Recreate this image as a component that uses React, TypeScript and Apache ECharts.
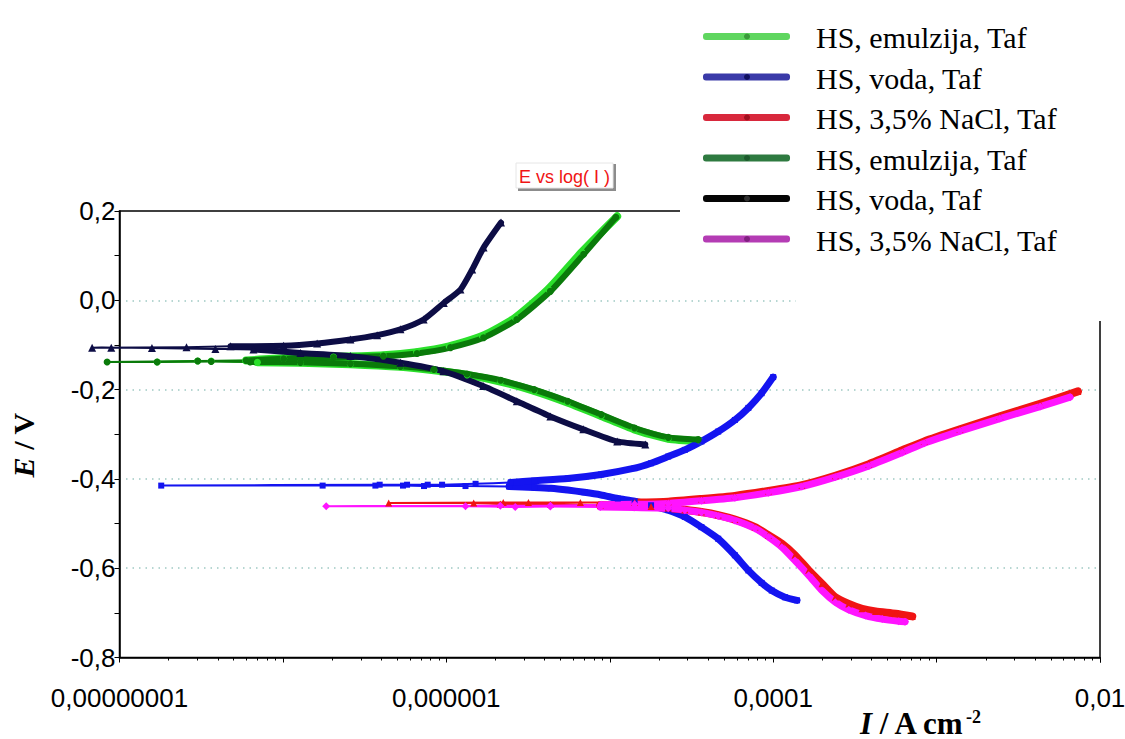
import React, { useEffect, useRef } from 'react';
import * as echarts from 'echarts';

// Data: [I (A cm^-2), E (V)]
// Series 1: HS, emulzija, Taf (light green)
const emulzijaLightCathodic = [[3.58e-5, -0.315], [2.28e-5, -0.31], [1.41e-5, -0.289], [8.87e-6, -0.259], [5.5e-6, -0.229], [3.45e-6, -0.203], [2.14e-6, -0.182], [1.34e-6, -0.167], [8.4e-7, -0.157], [5.24e-7, -0.149], [2.59e-7, -0.143], [1.28e-7, -0.14], [6.98e-8, -0.139]];
const emulzijaLightNear = [[3.64e-8, -0.136], [1.7e-8, -0.138], [3.01e-8, -0.136]];
const emulzijaLightAnodic = [[5.96e-8, -0.135], [1.01e-7, -0.13], [2.04e-7, -0.127], [4.12e-7, -0.123], [6.56e-7, -0.116], [1.04e-6, -0.103], [1.66e-6, -0.08], [2.64e-6, -0.039], [4.21e-6, 0.025], [6.75e-6, 0.108], [1.11e-5, 0.188]];

// Series 2: HS, voda, Taf (blue)
const vodaBlueCathodic = [[1.4e-4, -0.672], [1.18e-4, -0.665], [9.8e-5, -0.65], [8.5e-5, -0.633], [7.05e-5, -0.605], [5.83e-5, -0.571], [4.61e-5, -0.534], [3.64e-5, -0.508], [2.88e-5, -0.485], [2.28e-5, -0.47], [1.79e-5, -0.459], [1.42e-5, -0.45], [1.12e-5, -0.444], [8.85e-6, -0.436], [7.0e-6, -0.43], [5.53e-6, -0.425], [4.37e-6, -0.421], [3.45e-6, -0.419], [2.42e-6, -0.417]];
const vodaBlueNear = [[1.31e-6, -0.416], [7.3e-7, -0.416], [5.43e-7, -0.415], [3.68e-7, -0.415], [1.75e-7, -0.415], [1.8e-8, -0.415], [3.91e-7, -0.413], [5.75e-7, -0.413], [7.69e-7, -0.413], [9.42e-7, -0.413], [1.51e-6, -0.411]];
const vodaBlueAnodic = [[2.48e-6, -0.408], [3.45e-6, -0.404], [5.53e-6, -0.399], [8.85e-6, -0.39], [1.42e-5, -0.376], [1.79e-5, -0.365], [2.28e-5, -0.35], [2.88e-5, -0.335], [3.64e-5, -0.316], [4.61e-5, -0.294], [5.83e-5, -0.268], [7.05e-5, -0.241], [8.5e-5, -0.208], [1.0e-4, -0.172]];

// Series 3: HS, 3,5% NaCl, Taf (red)
const naclRedCathodic = [[7.1e-4, -0.708], [5.61e-4, -0.702], [4.23e-4, -0.697], [3.5e-4, -0.691], [2.9e-4, -0.68], [2.4e-4, -0.665], [1.99e-4, -0.635], [1.65e-4, -0.605], [1.36e-4, -0.571], [1.13e-4, -0.545], [9.35e-5, -0.526], [7.74e-5, -0.508], [5.83e-5, -0.491], [4.61e-5, -0.481], [3.64e-5, -0.474], [2.88e-5, -0.469], [2.28e-5, -0.465], [1.79e-5, -0.462], [8.75e-6, -0.459]];
const naclRedNear = [[4.33e-6, -0.457], [2.14e-6, -0.456], [1.47e-6, -0.454], [4.44e-7, -0.454], [2.23e-6, -0.453], [3.18e-6, -0.453], [6.61e-6, -0.453]];
const naclRedAnodic = [[1.42e-5, -0.453], [2.28e-5, -0.451], [3.64e-5, -0.445], [5.83e-5, -0.438], [9.35e-5, -0.427], [1.5e-4, -0.414], [2.4e-4, -0.393], [3.85e-4, -0.367], [6.17e-4, -0.336], [8.4e-4, -0.316], [1.39e-3, -0.289], [2.44e-3, -0.26], [4.3e-3, -0.232], [7.33e-3, -0.204]];

// Series 4: HS, emulzija, Taf (dark green)
const emulzijaDarkCathodic = [[3.48e-5, -0.312], [2.28e-5, -0.307], [1.42e-5, -0.286], [8.87e-6, -0.256], [5.53e-6, -0.226], [3.45e-6, -0.2], [2.15e-6, -0.179], [1.34e-6, -0.165], [8.4e-7, -0.155], [5.24e-7, -0.148], [2.59e-7, -0.142], [1.28e-7, -0.139], [6.3e-8, -0.138]];
const emulzijaDarkNear = [[3.64e-8, -0.137], [1.7e-8, -0.138], [8.4e-9, -0.138], [3.01e-8, -0.136]];
const emulzijaDarkAnodic = [[5.96e-8, -0.135], [1.01e-7, -0.131], [2.04e-7, -0.128], [4.12e-7, -0.125], [6.62e-7, -0.119], [1.06e-6, -0.106], [1.69e-6, -0.084], [2.7e-6, -0.043], [4.33e-6, 0.02], [6.92e-6, 0.103], [1.09e-5, 0.186]];

// Series 5: HS, voda, Taf (black / navy)
const vodaBlackCathodic = [[1.65e-5, -0.323], [1.11e-5, -0.316], [6.89e-6, -0.289], [4.33e-6, -0.26], [2.7e-6, -0.226], [1.68e-6, -0.192], [9.6e-7, -0.159], [5.24e-7, -0.14], [2.59e-7, -0.125], [1.28e-7, -0.118], [6.6e-8, -0.11]];
const vodaBlackNear = [[3.86e-8, -0.109], [1.58e-8, -0.107], [8.9e-9, -0.106], [6.8e-9, -0.106], [2.57e-8, -0.105]];
const vodaBlackAnodic = [[4.78e-8, -0.103], [1.01e-7, -0.102], [1.62e-7, -0.097], [2.59e-7, -0.088], [3.77e-7, -0.078], [5.24e-7, -0.065], [7.26e-7, -0.043], [9.64e-7, -0.006], [1.22e-6, 0.024], [1.44e-6, 0.069], [1.69e-6, 0.118], [2.16e-6, 0.174]];

// Series 6: HS, 3,5% NaCl, Taf (magenta)
const naclMagentaCathodic = [[6.41e-4, -0.72], [5.87e-4, -0.719], [4.65e-4, -0.714], [3.67e-4, -0.706], [2.9e-4, -0.693], [2.4e-4, -0.676], [1.99e-4, -0.65], [1.65e-4, -0.616], [1.36e-4, -0.583], [1.13e-4, -0.553], [9.35e-5, -0.53], [7.74e-5, -0.511], [5.83e-5, -0.493], [4.61e-5, -0.483], [3.64e-5, -0.475], [2.88e-5, -0.47], [2.28e-5, -0.466], [1.41e-5, -0.464], [8.75e-6, -0.463]];
const naclMagentaNear = [[4.33e-6, -0.462], [2.64e-6, -0.463], [1.31e-6, -0.461], [1.84e-7, -0.461], [2.14e-6, -0.46], [4.33e-6, -0.46]];
const naclMagentaAnodic = [[8.87e-6, -0.458], [1.42e-5, -0.457], [2.28e-5, -0.455], [3.64e-5, -0.449], [5.83e-5, -0.442], [9.35e-5, -0.431], [1.5e-4, -0.417], [2.4e-4, -0.396], [3.85e-4, -0.371], [6.17e-4, -0.341], [8.4e-4, -0.32], [1.39e-3, -0.293], [2.44e-3, -0.265], [4.3e-3, -0.238], [6.56e-3, -0.217]];

const seriesNames = ['HS, emulzija, Taf', 'HS, voda, Taf', 'HS, 3,5% NaCl, Taf', 'HS, emulzija, Taf', 'HS, voda, Taf', 'HS, 3,5% NaCl, Taf'];
const seriesColors = ['#2be02b', '#1414f0', '#f01414', '#0a7a0a', '#0d0d45', '#ff14ff'];
const legendColors = ['#5fd65f', '#3a3aa8', '#d8283c', '#2e7a40', '#050505', '#b43cb4'];
const legendDotColors = ['#3a9a3a', '#101060', '#a01020', '#1c5a2c', '#303030', '#802080'];

const xLabelExponents = [-8, -6, -4, -2];
const xTickLabels = ['0,00000001', '0,000001', '0,0001', '0,01'];
const xGridValues = [1e-6, 1e-4];

const GRID_DOT = '#9fc9c3';

export default function App() {
  const ref = useRef<HTMLDivElement>(null);
  useEffect(() => {
    if (!ref.current) return;
    const chart = echarts.init(ref.current, null, { renderer: 'svg' });
    const datasets = [
      { cath: emulzijaLightCathodic, near: emulzijaLightNear, anod: emulzijaLightAnodic, symbol: 'circle', size: 7, thick: 8 },
      { cath: vodaBlueCathodic, near: vodaBlueNear, anod: vodaBlueAnodic, symbol: 'rect', size: 6, thick: 7 },
      { cath: naclRedCathodic, near: naclRedNear, anod: naclRedAnodic, symbol: 'triangle', size: 7, thick: 8 },
      { cath: emulzijaDarkCathodic, near: emulzijaDarkNear, anod: emulzijaDarkAnodic, symbol: 'circle', size: 7, thick: 6 },
      { cath: vodaBlackCathodic, near: vodaBlackNear, anod: vodaBlackAnodic, symbol: 'triangle', size: 8, thick: 6 },
      { cath: naclMagentaCathodic, near: naclMagentaNear, anod: naclMagentaAnodic, symbol: 'diamond', size: 8, thick: 7 },
    ];
    const series: any[] = [];
    datasets.forEach((d, i) => {
      const color = seriesColors[i];
      const name = seriesNames[i];
      const full = [...d.cath, ...d.near, ...d.anod];
      [d.cath, d.anod].forEach((part) => {
        series.push({
          type: 'line', name, clip: false, silent: true,
          data: part,
          symbol: 'none',
          showSymbol: false,
          smooth: 0.2,
          lineStyle: { width: d.thick, color, cap: 'round', join: 'round' },
          ...(i === 0 && part === d.cath
            ? {
                markLine: {
                  silent: true,
                  symbol: 'none',
                  label: { show: false },
                  lineStyle: { color: GRID_DOT, type: [1.5, 5], width: 1.5 },
                  data: xGridValues.map((v) => ({ xAxis: v })),
                },
              }
            : {}),
        });
      });
      // thin connecting line (not clipped, data reaches left of the axis)
      series.push({
        type: 'custom', name, clip: false, silent: true,
        data: full,
        encode: { x: 0, y: 1 },
        renderItem: (params: any, api: any) => {
          if (params.dataIndex !== 0) return { type: 'group', children: [] };
          const pts = full.map((p) => api.coord(p));
          return {
            type: 'polyline',
            shape: { points: pts, smooth: 0.15 },
            style: { stroke: color, lineWidth: 2, fill: null },
            silent: true,
          };
        },
      });
      series.push({
        type: 'line', name, clip: false, silent: true,
        data: full,
        symbol: d.symbol,
        symbolSize: d.size,
        showSymbol: true,
        itemStyle: { color, borderWidth: 0 },
        lineStyle: { width: 0, opacity: 0 },
      });
    });

    const legendGraphics: any[] = [];
    seriesNames.forEach((name, i) => {
      const cy = 36.5 + i * 40.5;
      legendGraphics.push(
        { type: 'rect', shape: { x: 703, y: cy - 3.5, width: 87, height: 7, r: 3 }, style: { fill: legendColors[i] }, z: 101, silent: true },
        { type: 'circle', shape: { cx: 747, cy, r: 3 }, style: { fill: legendDotColors[i] }, z: 102, silent: true },
        {
          type: 'text', x: 816, y: cy + 1, z: 102, silent: true,
          style: { text: name, fontFamily: 'Liberation Serif', fontSize: 30, fill: '#000', align: 'left', verticalAlign: 'middle' },
        }
      );
    });

    const option = {
      animation: false,
      grid: { left: 119.5, top: 211, right: 25, bottom: 81.5, show: true, borderColor: '#000', borderWidth: 1.5, backgroundColor: 'transparent', containLabel: false, outerBoundsMode: 'none' },
      xAxis: {
        type: 'log', logBase: 10, min: 1e-8, max: 1e-2,
        axisLine: { show: true, onZero: false, lineStyle: { color: '#000', width: 1.5 } },
        axisTick: { show: true, inside: false, length: 5, lineStyle: { color: '#000', width: 1 } },
        minorTick: { show: true, splitNumber: 9, length: 3, lineStyle: { color: '#000', width: 1 } },
        splitLine: { show: false },
        axisLabel: {
          margin: 27, fontSize: 26, fontFamily: 'Liberation Sans', color: '#000',
          showMinLabel: true, showMaxLabel: true,
          formatter: (v: number) => {
            const e = Math.round(Math.log10(v));
            const idx = xLabelExponents.indexOf(e);
            return idx >= 0 ? xTickLabels[idx] : '';
          },
        },
      },
      yAxis: {
        type: 'value', min: -0.8, max: 0.2, interval: 0.2,
        axisLine: { show: true, onZero: false, lineStyle: { color: '#000', width: 1.5 } },
        axisTick: { show: true, inside: false, length: 5, lineStyle: { color: '#000', width: 1 } },
        minorTick: { show: true, splitNumber: 2, length: 5, lineStyle: { color: '#000', width: 1 } },
        splitLine: { show: true, showMinLine: false, showMaxLine: false, lineStyle: { color: GRID_DOT, type: [1.5, 5], width: 1.5 } },
        axisLabel: {
          margin: 4, fontSize: 26, fontFamily: 'Liberation Sans', color: '#000', padding: [6, 0, 0, 0],
          formatter: (v: number) => (Math.abs(v) < 1e-9 ? '0,0' : v.toFixed(1).replace('.', ',')),
        },
      },
      series,
      graphic: [
        { type: 'rect', shape: { x: 680, y: 0, width: 445, height: 287 }, style: { fill: '#fff' }, z: 100, silent: true },
        { type: 'rect', shape: { x: 796, y: 286, width: 329, height: 35 }, style: { fill: '#fff' }, z: 100, silent: true },
        ...legendGraphics,
        { type: 'rect', shape: { x: 613, y: 164, width: 3, height: 27 }, style: { fill: '#8c8c8c' }, z: 100, silent: true },
        { type: 'rect', shape: { x: 518, y: 188, width: 98, height: 3 }, style: { fill: '#8c8c8c' }, z: 100, silent: true },
        { type: 'rect', shape: { x: 516, y: 163, width: 97, height: 25 }, style: { fill: '#fff', stroke: '#e6e6e6', lineWidth: 1 }, z: 100, silent: true },
        {
          type: 'text', x: 519, y: 176.5, z: 101, silent: true,
          style: { text: 'E vs log( I )', fontFamily: 'Liberation Sans', fontSize: 18, fill: '#f01414', align: 'left', verticalAlign: 'middle' },
        },
        {
          type: 'text', x: 23, y: 445, rotation: Math.PI / 2, z: 101, silent: true,
          style: {
            text: '{i|E} / V', fontFamily: 'Liberation Serif', fontWeight: 'bold', fontSize: 30, fill: '#000', align: 'center', verticalAlign: 'middle',
            rich: { i: { fontFamily: 'Liberation Serif', fontWeight: 'bold', fontStyle: 'italic', fontSize: 30 } },
          },
        },
        {
          type: 'text', x: 860, y: 723, z: 101, silent: true,
          style: {
            text: '{i|I} / A cm{s|-2}', fontFamily: 'Liberation Serif', fontWeight: 'bold', fontSize: 31, fill: '#000', align: 'left', verticalAlign: 'middle',
            rich: {
              i: { fontFamily: 'Liberation Serif', fontWeight: 'bold', fontStyle: 'italic', fontSize: 31 },
              s: { fontFamily: 'Liberation Serif', fontWeight: 'bold', fontSize: 18, verticalAlign: 'top', padding: [0, 0, 8, 0] },
            },
          },
        },
      ],
    };
    chart.setOption(option as any);
    return () => chart.dispose();
  }, []);
  return <div ref={ref} style={{ position: 'fixed', left: 0, top: 0, width: 1125, height: 739, background: '#fff' }} />;
}
